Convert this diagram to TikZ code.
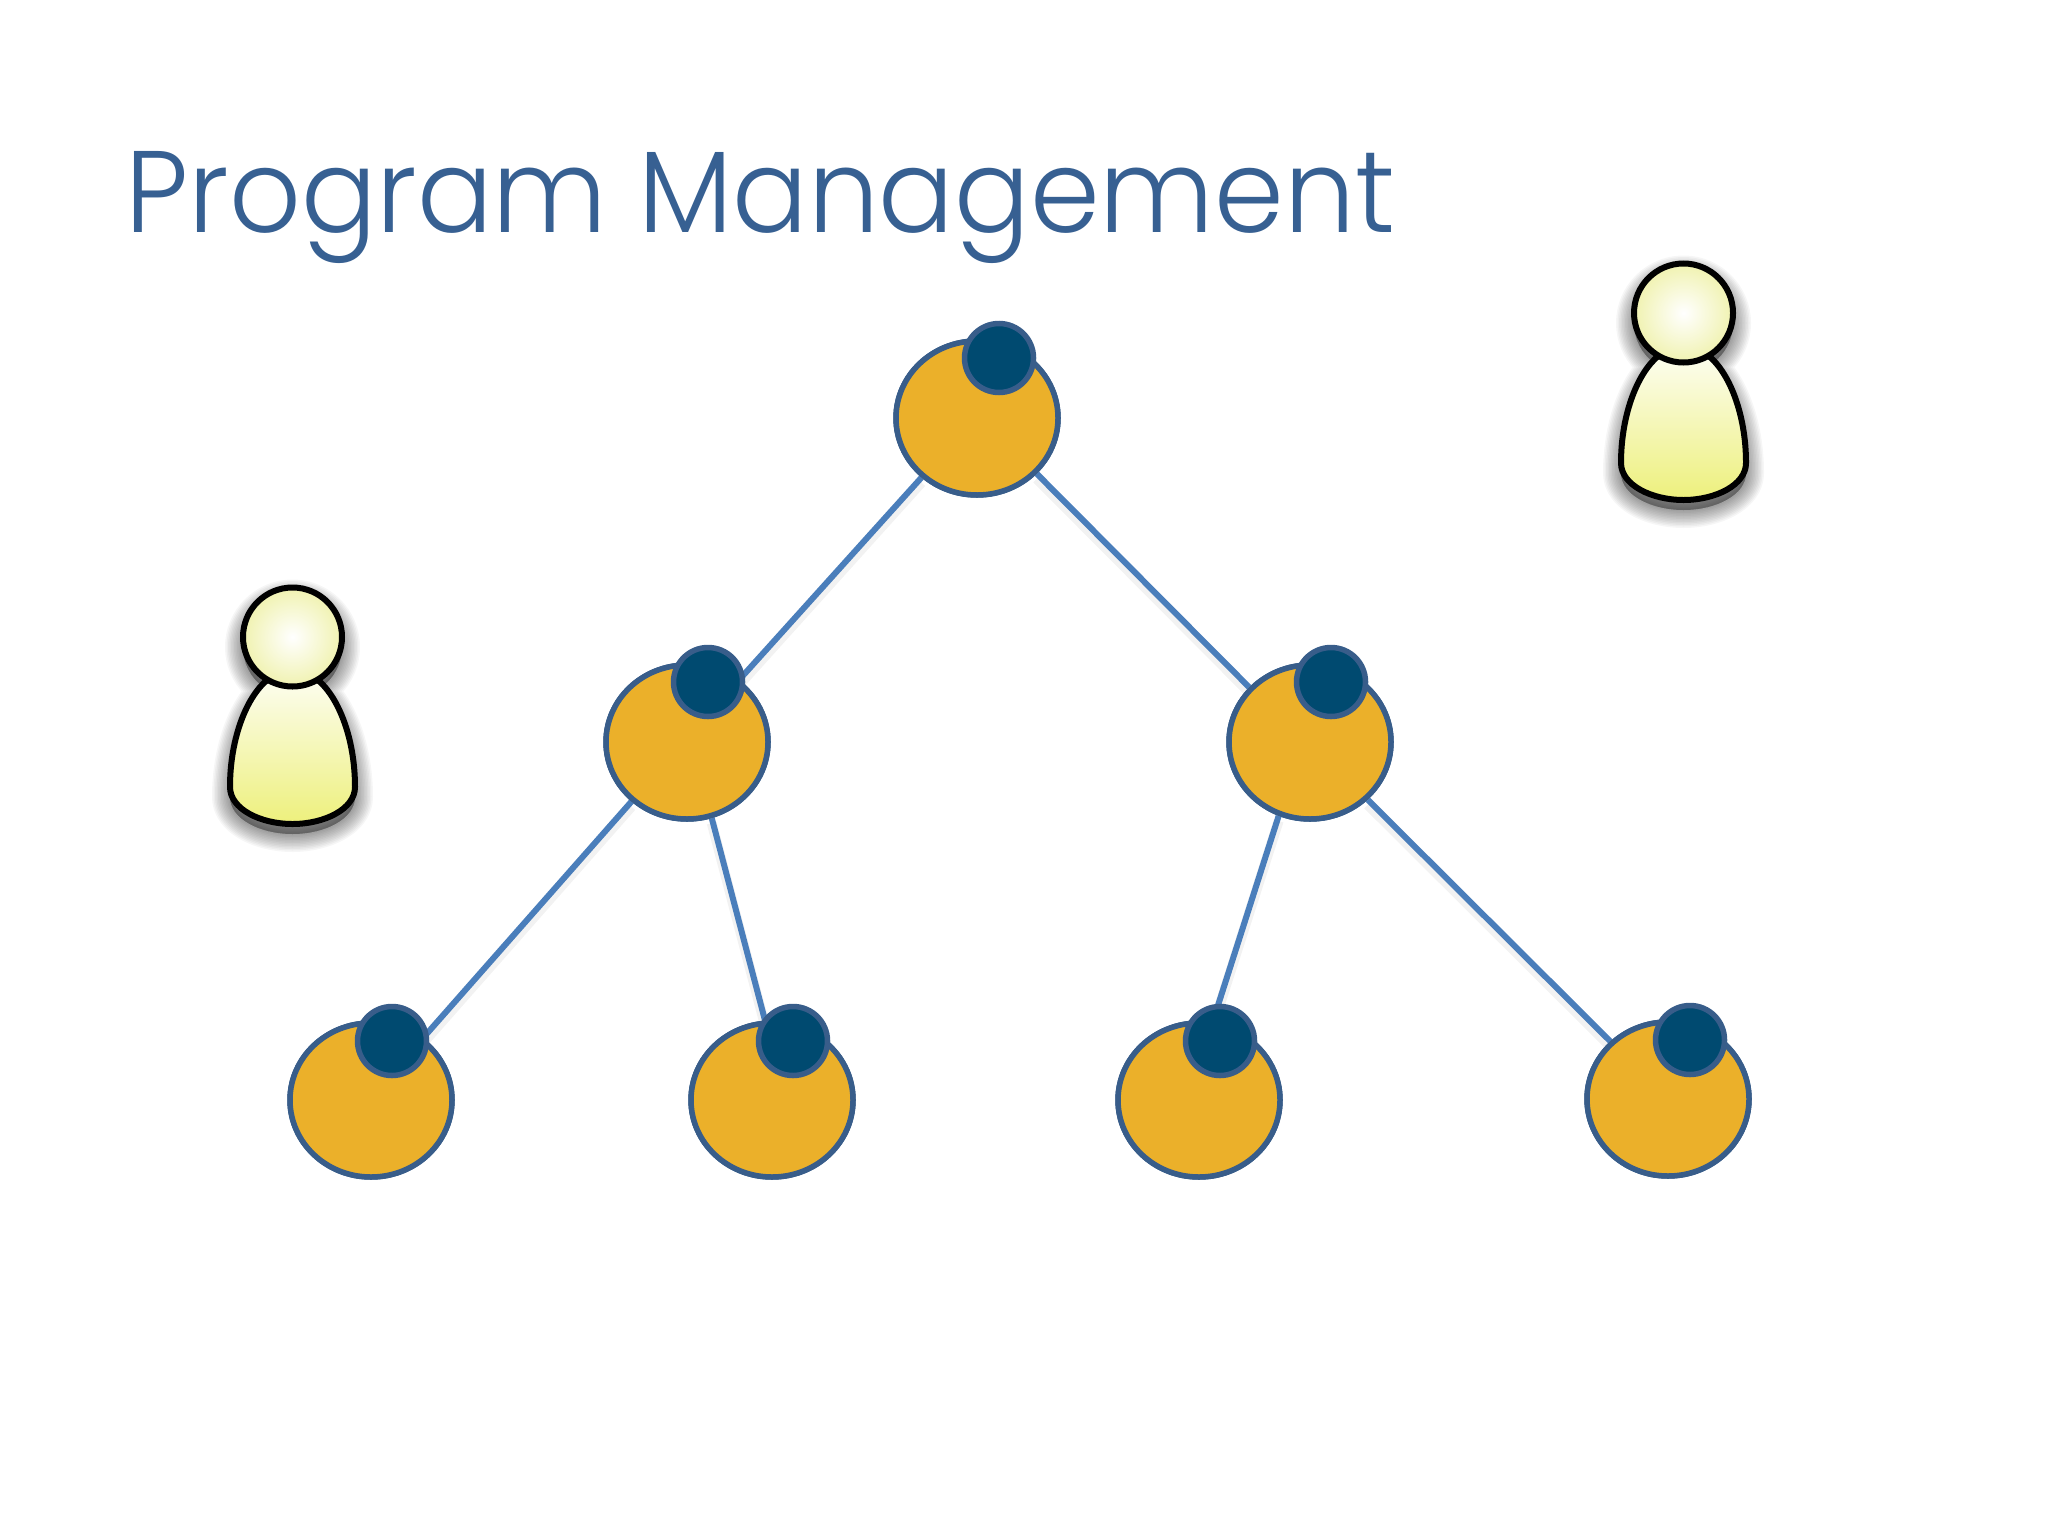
\documentclass[tikz,border=0pt]{standalone}
\usepackage{fontspec}
\setmainfont{Poppins}[UprightFont=* Light,FakeStretch=0.966]
\usetikzlibrary{shapes.geometric}
\definecolor{titleblue}{HTML}{376092}
\definecolor{edgeblue}{HTML}{4A7EBB}
\definecolor{ringblue}{HTML}{385D8A}
\definecolor{gold}{HTML}{EBB02A}
\definecolor{navy}{HTML}{004A70}
\definecolor{paletop}{HTML}{FCFDEE}
\definecolor{palemid}{HTML}{F9FBD8}
\definecolor{palelow}{HTML}{EDF07C}
\definecolor{headedge}{HTML}{F0F2B0}
\tikzset{
  bignode/.style={ellipse,draw=ringblue,fill=gold,line width=2.75pt,minimum width=81pt,minimum height=77pt,inner sep=0pt},
  dotnode/.style={circle,draw=ringblue,fill=navy,line width=2.75pt,minimum size=34.5pt,inner sep=0pt},
  link/.style={edgeblue,line width=3pt},
  linkshadow/.style={black,opacity=.05,line width=5pt,transform canvas={yshift=-2.5pt}},
  person/.pic={
    \foreach \w in {18,16.5,15,13.5,12,10.5,9,7.5,6,4.5,3,1.5}{
      \path[fill=black,draw=black,opacity=.035,line width=\w pt,line join=round,yshift=-5pt]
        (-24,42) .. controls (-45,58) and (-62.5,100) .. (-62.5,150)
        .. controls (-62.5,172) and (-32,187) .. (0,187)
        .. controls (32,187) and (62.5,172) .. (62.5,150)
        .. controls (62.5,100) and (45,58) .. (24,42) -- cycle
        (0,0) circle[radius=49.5];
    }
    \path[draw=black,line width=3pt,line join=round,top color=paletop,middle color=palemid,bottom color=palelow,shading angle=0]
        (-24,42) .. controls (-45,58) and (-62.5,100) .. (-62.5,150)
        .. controls (-62.5,172) and (-32,187) .. (0,187)
        .. controls (32,187) and (62.5,172) .. (62.5,150)
        .. controls (62.5,100) and (45,58) .. (24,42) -- cycle;
    \path[draw=black,line width=3pt,inner color=white,outer color=headedge]
        (0,0) circle[radius=49.5];
  }
}
\begin{document}
\begin{tikzpicture}[x=0.5pt,y=-0.5pt]
\useasboundingbox (0,0) rectangle (2048,1536);
\fill[white] (0,0) rectangle (2048,1536);
\node[anchor=base west,inner sep=0pt,text=titleblue,font=\fontsize{58pt}{58pt}\selectfont] (title) at (125,232) {Program Management};
% big circles
\node[bignode] (r) at (977,418) {};
\node[bignode] (a) at (687,742) {};
\node[bignode] (b) at (1310,742) {};
\node[bignode] (c) at (371,1100) {};
\node[bignode] (d) at (772,1100) {};
\node[bignode] (e) at (1199,1100) {};
\node[bignode] (f) at (1668,1099) {};
% connectors
\foreach \p/\q in {r.-133/a.50,r.-43/b.138,a.-133/c.50,a.-72/d.95,b.-113/e.80,b.-45/f.135}{
  \draw[linkshadow] (\p) -- (\q);
  \draw[link] (\p) -- (\q);
}
\foreach \n in {r,a,b,c,d,e,f}{
  \node[bignode] at (\n) {};
}
% small circles
\node[dotnode] (rd) at (999,358) {};
\node[dotnode] (ad) at (708,682) {};
\node[dotnode] (bd) at (1331,682) {};
\node[dotnode] (cd) at (392,1041) {};
\node[dotnode] (dd) at (793,1041) {};
\node[dotnode] (ed) at (1220,1041) {};
\node[dotnode] (fd) at (1690,1040) {};
% people
\pic at (1683.5,313) {person};
\pic at (292.5,637) {person};
\end{tikzpicture}
\end{document}
